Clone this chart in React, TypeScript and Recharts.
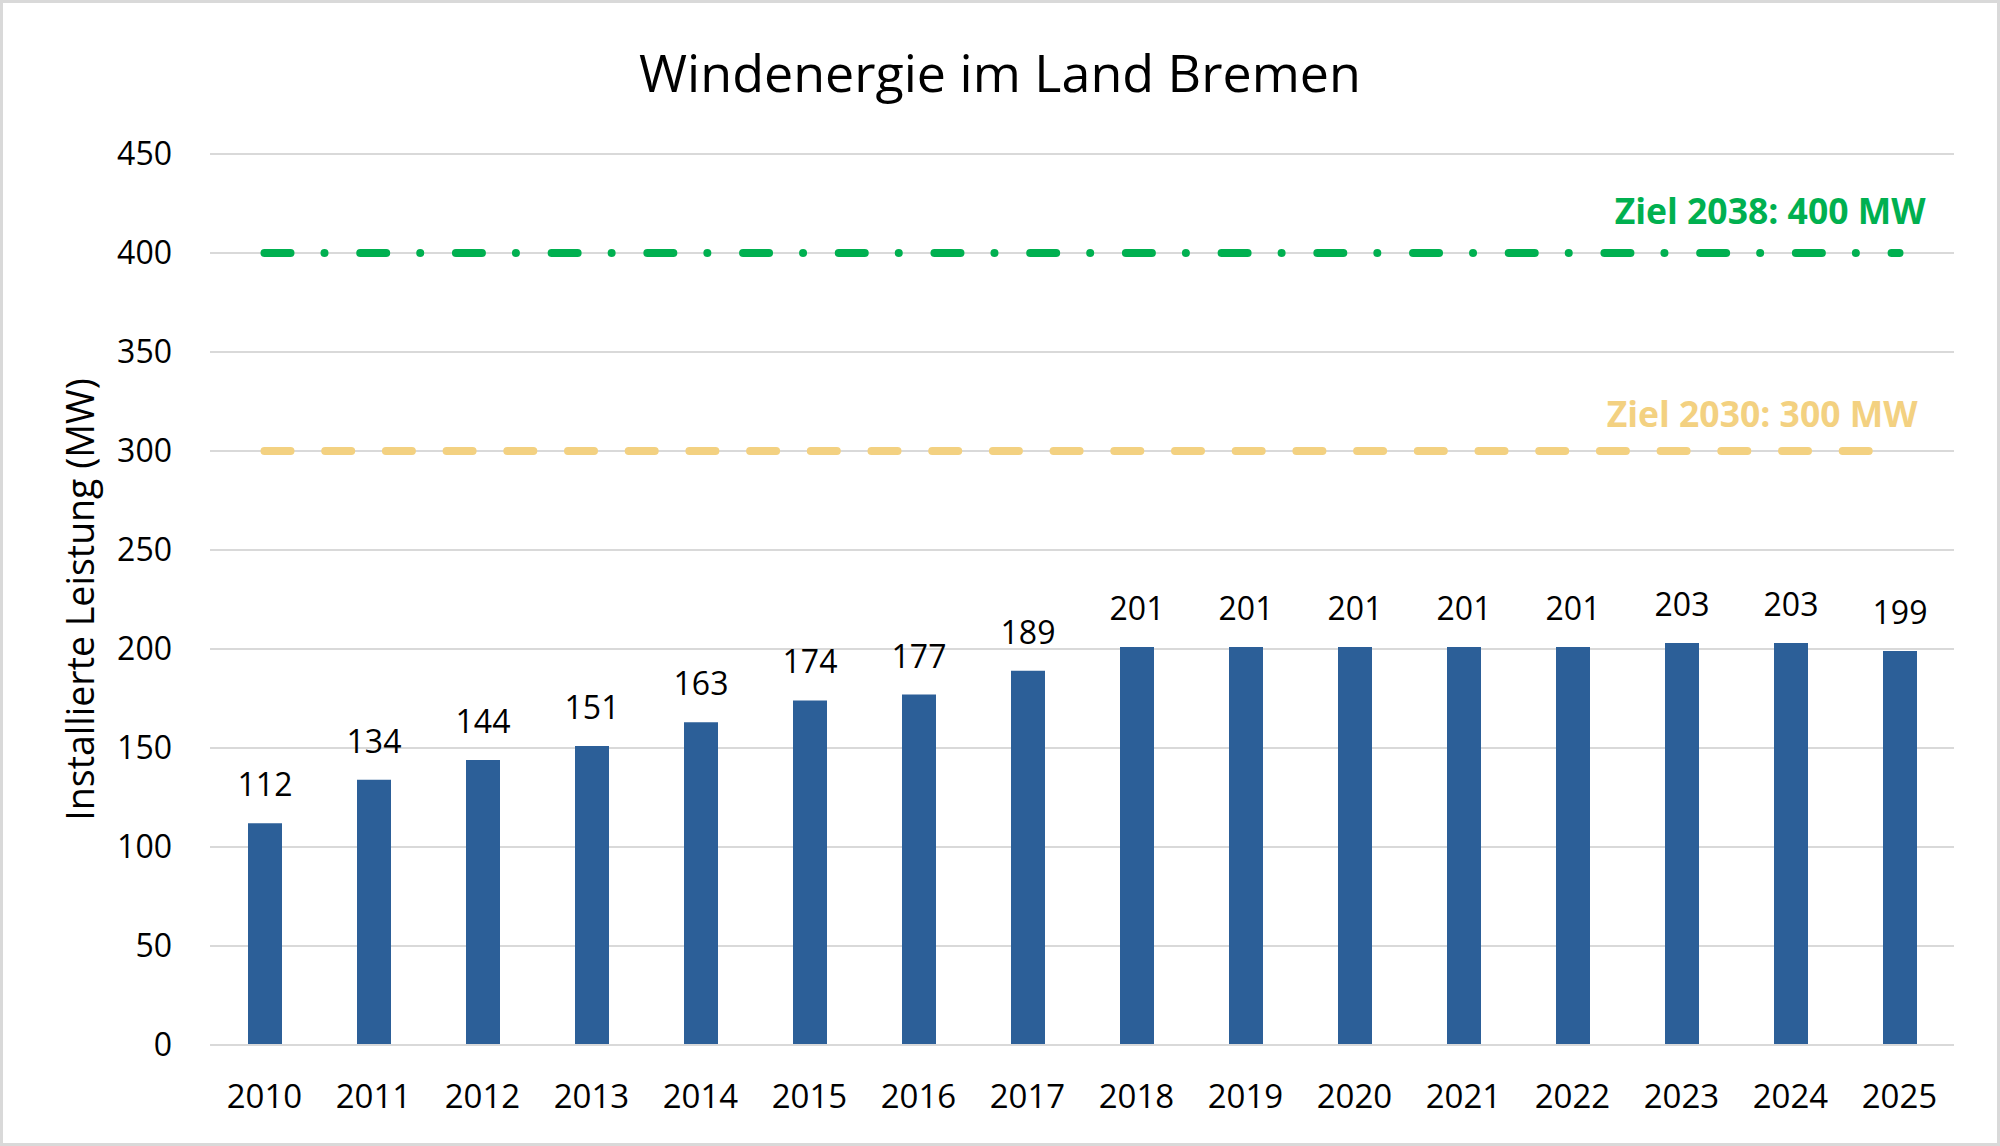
import React from "react";
import {
  ComposedChart,
  Bar,
  XAxis,
  YAxis,
  CartesianGrid,
  ReferenceLine,
  LabelList,
} from "recharts";

const years = [
  "2010", "2011", "2012", "2013", "2014", "2015", "2016", "2017",
  "2018", "2019", "2020", "2021", "2022", "2023", "2024", "2025",
];
const leistungMW = [
  112, 134, 144, 151, 163, 174, 177, 189, 201, 201, 201, 201, 201, 203, 203, 199,
];
const yTicks = [0, 50, 100, 150, 200, 250, 300, 350, 400, 450];

const ziel2030 = 300;
const ziel2038 = 400;
const ziel2030Text = "Ziel 2030: 300 MW";
const ziel2038Text = "Ziel 2038: 400 MW";

const data = years.map((year, i) => ({ year, mw: leistungMW[i] }));

const FONT = "'Open Sans', 'Noto Sans', sans-serif";
const GREEN = "#00B050";
const GOLD = "#F3D181";
const BAR = "#2C5F98";
const GRID = "#D9D9D9";

// label drawn to the upper right of a target line
const TargetLabel = (props: any) => {
  const { viewBox, text, color, dx, dy } = props;
  if (!viewBox) return null;
  const x = viewBox.x + viewBox.width + dx;
  const y = viewBox.y + dy;
  return (
    <text
      x={x}
      y={y}
      textAnchor="end"
      fill={color}
      fontSize={35.5}
      fontWeight={700}
      fontFamily={FONT}
    >
      {text}
    </text>
  );
};

// rotated y axis title
const YTitle = (props: any) => {
  const { viewBox } = props;
  const cy = viewBox ? viewBox.y + viewBox.height / 2 : 600;
  const x = 94;
  return (
    <text
      x={x}
      y={cy}
      transform={`rotate(-90 ${x} ${cy})`}
      textAnchor="middle"
      fill="#000"
      fontSize={37.5}
      fontFamily={FONT}
    >
      Installierte Leistung (MW)
    </text>
  );
};

export default function App() {
  return (
    <div
      style={{
        position: "fixed",
        left: 0,
        top: 0,
        width: 2000,
        height: 1146,
        background: "#fff",
        fontFamily: FONT,
      }}
    >
      <div
        style={{
          position: "absolute",
          left: 0,
          top: 46,
          width: 2000,
          textAlign: "center",
          fontSize: 52,
          lineHeight: 1,
          color: "#000",
        }}
      >
        Windenergie im Land Bremen
      </div>

      <ComposedChart
        width={2000}
        height={1146}
        data={data}
        margin={{ top: 154, right: 46, bottom: 41, left: 0 }}
        barCategoryGap={0}
      >
        <CartesianGrid vertical={false} stroke={GRID} strokeWidth={2} />

        <XAxis
          dataKey="year"
          height={60}
          tickLine={false}
          tickSize={0}
          tickMargin={40}
          axisLine={{ stroke: GRID, strokeWidth: 2 }}
          interval={0}
          tick={{ fontSize: 33, fill: "#000", fontFamily: FONT }}
        />

        <YAxis
          width={210}
          domain={[0, 450]}
          ticks={yTicks}
          interval={0}
          axisLine={false}
          tickLine={false}
          tickSize={0}
          tickMargin={38}
          tick={{ fontSize: 32, fill: "#000", fontFamily: FONT }}
          label={<YTitle />}
        />

        {/* Zielwerte */}
        <ReferenceLine
          segment={[
            { x: years[0], y: ziel2030 },
            { x: years[years.length - 1], y: ziel2030 },
          ]}
          stroke={GOLD}
          strokeWidth={8}
          strokeLinecap="round"
          strokeDasharray="26 34.7"
          label={<TargetLabel text={ziel2030Text} color={GOLD} dx={18} dy={-24} />}
        />
        <ReferenceLine
          segment={[
            { x: years[0], y: ziel2038 },
            { x: years[years.length - 1], y: ziel2038 },
          ]}
          stroke={GREEN}
          strokeWidth={8}
          strokeLinecap="round"
          strokeDasharray="26 34 0.01 35.7"
          label={<TargetLabel text={ziel2038Text} color={GREEN} dx={26} dy={-29} />}
        />

        <Bar dataKey="mw" fill={BAR} barSize={34} isAnimationActive={false}>
          <LabelList
            dataKey="mw"
            position="top"
            offset={27}
            style={{ fontSize: 32, fill: "#000", fontFamily: FONT }}
          />
        </Bar>
      </ComposedChart>

      <div
        style={{
          position: "absolute",
          left: 0,
          top: 0,
          width: 2000,
          height: 1146,
          boxSizing: "border-box",
          border: `3px solid ${GRID}`,
          pointerEvents: "none",
        }}
      />
    </div>
  );
}
